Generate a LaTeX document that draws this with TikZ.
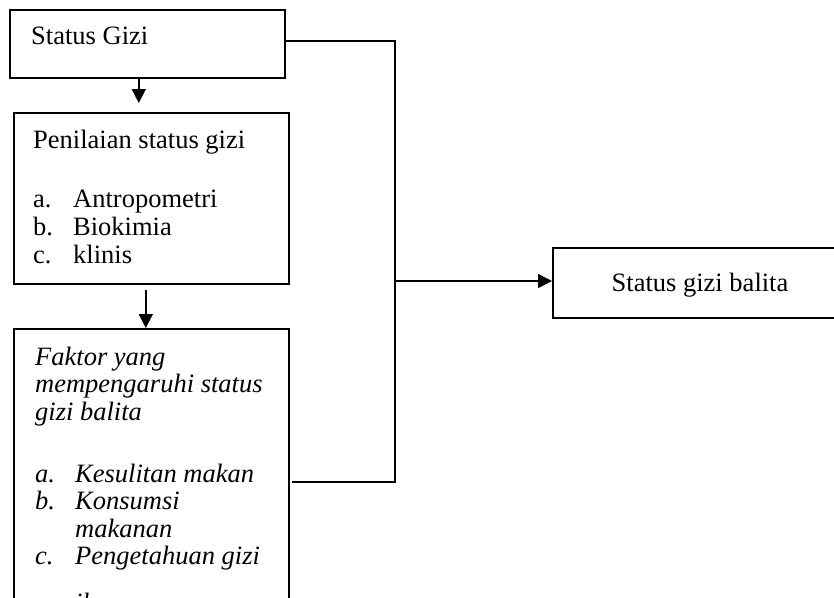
\documentclass[tikz,border=0pt]{standalone}
\usepackage{fontspec}
\setmainfont{Liberation Serif}
\usetikzlibrary{arrows.meta,positioning}

\tikzset{
  box/.style={draw, line width=1.6pt, anchor=north west, inner sep=0pt},
  txt/.style={anchor=base west, align=left, inner sep=0pt,
    font=\fontsize{26.5}{28}\selectfont},
  link/.style={line width=1.6pt},
  arr/.style={line width=1.6pt, -{Triangle[length=14pt,width=14pt]}}
}
\newcommand{\itm}[1]{\makebox[40pt][l]{#1}}

\begin{document}
\begin{tikzpicture}[x=1pt,y=-1pt]
  \path[use as bounding box, clip] (0,0) rectangle (834,597);
  % boxes
  \node[box, minimum width=275pt, minimum height=68pt] (status) at (9,9) {};
  \node[box, minimum width=275pt, minimum height=171pt] (penilaian) at (13,112) {};
  \node[box, minimum width=275pt, minimum height=300pt] (faktor) at (13,328) {};
  \node[box, minimum width=296pt, minimum height=70pt] (balita) at (552,247) {};
  % texts (multi-line nodes sit on their last line)
  \node[txt] (status-txt) at (31,44) {Status Gizi};
  \node[txt] (penilaian-txt) at (33,263)
    {Penilaian status gizi\\[31pt]
     \itm{a.}Antropometri\\
     \itm{b.}Biokimia\\
     \itm{c.}klinis};
  \node[txt, font=\fontsize{26.5}{27.5}\selectfont\itshape] (faktor-txt) at (35,611)
    {Faktor yang\\
     mempengaruhi status\\
     gizi balita\\[34.5pt]
     \itm{a.}Kesulitan makan\\
     \itm{b.}Konsumsi\\
     \itm{}makanan\\
     \itm{c.}Pengetahuan gizi\\[19pt]
     \itm{}ibu};
  \node[txt, anchor=base] (balita-txt) at (700,291) {Status gizi balita};
  % connectors
  \coordinate (split) at (395,281);
  \coordinate (faktor-out) at (292,482);
  \draw[arr, shorten >=9pt] ([xshift=-8.5pt]status.south) -- ([xshift=-8.5pt]status.south |- penilaian.north);
  \draw[arr, shorten <=5pt] ([xshift=-5.5pt]penilaian.south) -- ([xshift=-5.5pt]penilaian.south |- faktor.north);
  \draw[link] ([yshift=3pt]status.east) -| (split) |- (faktor-out);
  \draw[arr] (split) -- (split -| balita.west);
\end{tikzpicture}
\end{document}
